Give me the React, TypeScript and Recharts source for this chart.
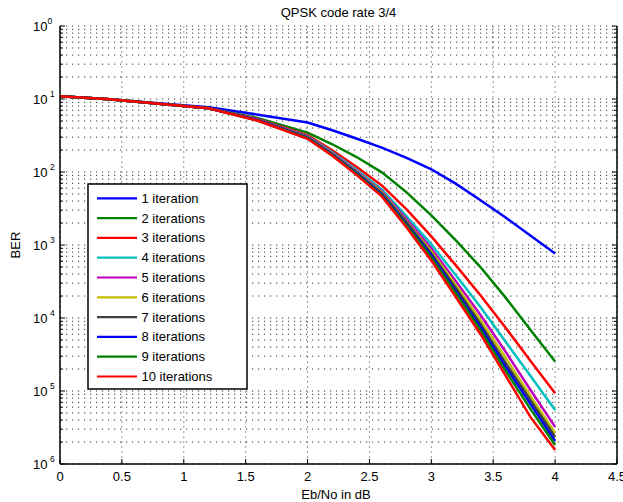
import React from "react";
import { LineChart, Line, XAxis, YAxis, CartesianGrid } from "recharts";

// Eb/No points (dB)
const EBNO = [0, 0.4, 0.8, 1.2, 1.6, 2.0, 2.2, 2.4, 2.6, 2.8, 3.0, 3.2, 3.4, 3.6, 3.8, 4.0];

// BER per number of decoder iterations
const ITER1 = [0.109, 0.0995, 0.0877, 0.0773, 0.061, 0.0476, 0.0373, 0.0285, 0.0216, 0.0156, 0.0109, 0.00687, 0.00408, 0.00238, 0.00135, 0.000764];
const ITER2 = [0.109, 0.0995, 0.0863, 0.0748, 0.0546, 0.0347, 0.024, 0.0159, 0.00989, 0.00526, 0.00254, 0.00115, 0.000491, 0.00019, 6.92e-5, 2.54e-5];
const ITER3 = [0.109, 0.0995, 0.0863, 0.0748, 0.0528, 0.0319, 0.0198, 0.0116, 0.00656, 0.00307, 0.00131, 0.000522, 0.000202, 7.36e-5, 2.59e-5, 9.33e-6];
const ITER4 = [0.109, 0.0995, 0.0863, 0.0748, 0.052, 0.0309, 0.0186, 0.01054, 0.00578, 0.00246, 0.00102, 0.000381, 0.000139, 4.73e-5, 1.62e-5, 5.51e-6];
const ITER5 = [0.109, 0.0995, 0.0863, 0.0748, 0.052, 0.0304, 0.018, 0.0102, 0.00542, 0.00224, 0.000895, 0.000315, 0.000108, 3.45e-5, 1.04e-5, 3.22e-6];
const ITER6 = [0.109, 0.0995, 0.0863, 0.0748, 0.0512, 0.0299, 0.0177, 0.00989, 0.00526, 0.0021, 0.000815, 0.000278, 9.19e-5, 2.85e-5, 8.57e-6, 2.66e-6];
const ITER7 = [0.109, 0.0995, 0.0863, 0.0748, 0.0512, 0.0299, 0.0175, 0.00973, 0.00509, 0.00204, 0.000764, 0.000253, 8.1e-5, 2.43e-5, 7.56e-6, 2.34e-6];
const ITER8 = [0.109, 0.0995, 0.0863, 0.0748, 0.0512, 0.0294, 0.0172, 0.00959, 0.00493, 0.00191, 0.000718, 0.00023, 7.36e-5, 2.15e-5, 6.67e-6, 2.07e-6];
const ITER9 = [0.109, 0.0995, 0.0863, 0.0748, 0.0504, 0.029, 0.0169, 0.00929, 0.00479, 0.00185, 0.000673, 0.000216, 6.7e-5, 1.89e-5, 5.69e-6, 1.82e-6];
const ITER10 = [0.109, 0.0995, 0.0863, 0.0748, 0.0504, 0.0285, 0.0167, 0.00899, 0.00463, 0.00174, 0.000612, 0.00019, 5.9e-5, 1.62e-5, 4.42e-6, 1.56e-6];

const SERIES_NAMES = [
  "1 iteration", "2 iterations", "3 iterations", "4 iterations", "5 iterations",
  "6 iterations", "7 iterations", "8 iterations", "9 iterations", "10 iterations",
];
const SERIES_VALUES = [ITER1, ITER2, ITER3, ITER4, ITER5, ITER6, ITER7, ITER8, ITER9, ITER10];
// matlab default line colour order
const COLORS = ["#0000ff", "#008000", "#ff0000", "#00bfbf", "#bf00bf", "#bfbf00", "#404040", "#0000ff", "#008000", "#ff0000"];

const X_TICKS = [0, 0.5, 1, 1.5, 2, 2.5, 3, 3.5, 4, 4.5];
const DECADES = [-6, -5, -4, -3, -2, -1, 0];
const Y_TICKS: number[] = [];
DECADES.forEach((k) => {
  for (let m = 1; m <= (k === 0 ? 1 : 9); m++) Y_TICKS.push(m * Math.pow(10, k));
});

const data = EBNO.map((x, i) => {
  const row: Record<string, number> = { x };
  SERIES_VALUES.forEach((s, j) => (row["s" + j] = s[i]));
  return row;
});

const FONT = "'Liberation Sans', Arial, Helvetica, sans-serif";

function isDecade(v: number) {
  const lg = Math.log10(v);
  return Math.abs(lg - Math.round(lg)) < 1e-6;
}

function YTick(props: any) {
  const { x, y, payload, side } = props;
  const v = payload.value;
  const major = isDecade(v);
  const len = major ? 5 : 3;
  const dir = side === "right" ? -1 : 1;
  const exp = Math.round(Math.log10(v));
  return (
    <g>
      <line x1={x} x2={x + dir * len} y1={y} y2={y} stroke="#000" strokeWidth={1} />
      {side !== "right" && major && (
        <text x={x - 27} y={y + 5} fontSize={13} fontFamily={FONT} fill="#000">
          10
          <tspan dx={exp === 0 ? 0 : 2.5} dy={-7} fontSize={8.5}>
            {String(Math.abs(exp))}
          </tspan>
        </text>
      )}
    </g>
  );
}

function XTick(props: any) {
  const { x, y, payload, side } = props;
  const dir = side === "top" ? 1 : -1;
  return (
    <g>
      <line x1={x} x2={x} y1={y} y2={y + dir * 5} stroke="#000" strokeWidth={1} />
      {side !== "top" && (
        <text x={x} y={y + 17} textAnchor="middle" fontSize={13} fontFamily={FONT} fill="#000">
          {String(payload.value)}
        </text>
      )}
    </g>
  );
}

export default function App() {
  const axisLine = { stroke: "#000", strokeWidth: 1.5 };
  return (
    <div style={{ position: "absolute", left: 0, top: 0, width: 623, height: 502, background: "#fff" }}>
      <LineChart width={623} height={502} data={data} margin={{ top: 26, right: 0, bottom: 0, left: 0 }}>
        <CartesianGrid
          horizontal={false}
          verticalValues={X_TICKS}
          stroke="#999"
          strokeDasharray="2 3"
        />
        <CartesianGrid
          vertical={false}
          horizontalValues={Y_TICKS}
          stroke="#333"
          strokeDasharray="1.2 4.8"
        />
        <XAxis
          dataKey="x"
          type="number"
          domain={[0, 4.5]}
          ticks={X_TICKS}
          interval={0}
          height={38}
          tickSize={0}
          tickMargin={0}
          tickLine={false}
          axisLine={axisLine}
          tick={<XTick side="bottom" />}
        />
        <XAxis
          xAxisId="top"
          orientation="top"
          type="number"
          domain={[0, 4.5]}
          ticks={X_TICKS}
          interval={0}
          height={0}
          tickSize={0}
          tickMargin={0}
          tickLine={false}
          axisLine={axisLine}
          tick={<XTick side="top" />}
        />
        <YAxis
          type="number"
          scale="log"
          domain={[1e-6, 1]}
          allowDataOverflow
          ticks={Y_TICKS}
          interval={0}
          width={60}
          tickSize={0}
          tickMargin={0}
          tickLine={false}
          axisLine={axisLine}
          tick={<YTick side="left" />}
        />
        <YAxis
          yAxisId="right"
          orientation="right"
          type="number"
          scale="log"
          domain={[1e-6, 1]}
          allowDataOverflow
          ticks={Y_TICKS}
          interval={0}
          width={6}
          tickSize={0}
          tickMargin={0}
          tickLine={false}
          axisLine={axisLine}
          tick={<YTick side="right" />}
        />
        {SERIES_NAMES.map((name, j) => (
          <Line
            key={name}
            dataKey={"s" + j}
            name={name}
            type="linear"
            stroke={COLORS[j]}
            strokeWidth={2.5}
            dot={false}
            isAnimationActive={false}
          />
        ))}
      </LineChart>
      <svg
        width={623}
        height={502}
        style={{ position: "absolute", left: 0, top: 0, pointerEvents: "none" }}
        fontFamily={FONT}
      >
        <text x={338.5} y={17} textAnchor="middle" fontSize={13} fill="#000">
          QPSK code rate 3/4
        </text>
        <text x={336} y={499} textAnchor="middle" fontSize={13} fill="#000">
          Eb/No in dB
        </text>
        <text x={20} y={245} textAnchor="middle" fontSize={13} fill="#000" transform="rotate(-90 20 245)">
          BER
        </text>
        <g>
          <rect x={88} y={184} width={159} height={205} fill="#fff" stroke="#000" strokeWidth={1.5} />
          {SERIES_NAMES.map((name, j) => {
            const cy = 198.3 + j * 19.8;
            return (
              <g key={name}>
                <line x1={97} x2={137} y1={cy} y2={cy} stroke={COLORS[j]} strokeWidth={2.2} />
                <text x={141.5} y={cy + 4.5} fontSize={13} fill="#000">
                  {name}
                </text>
              </g>
            );
          })}
        </g>
      </svg>
    </div>
  );
}
